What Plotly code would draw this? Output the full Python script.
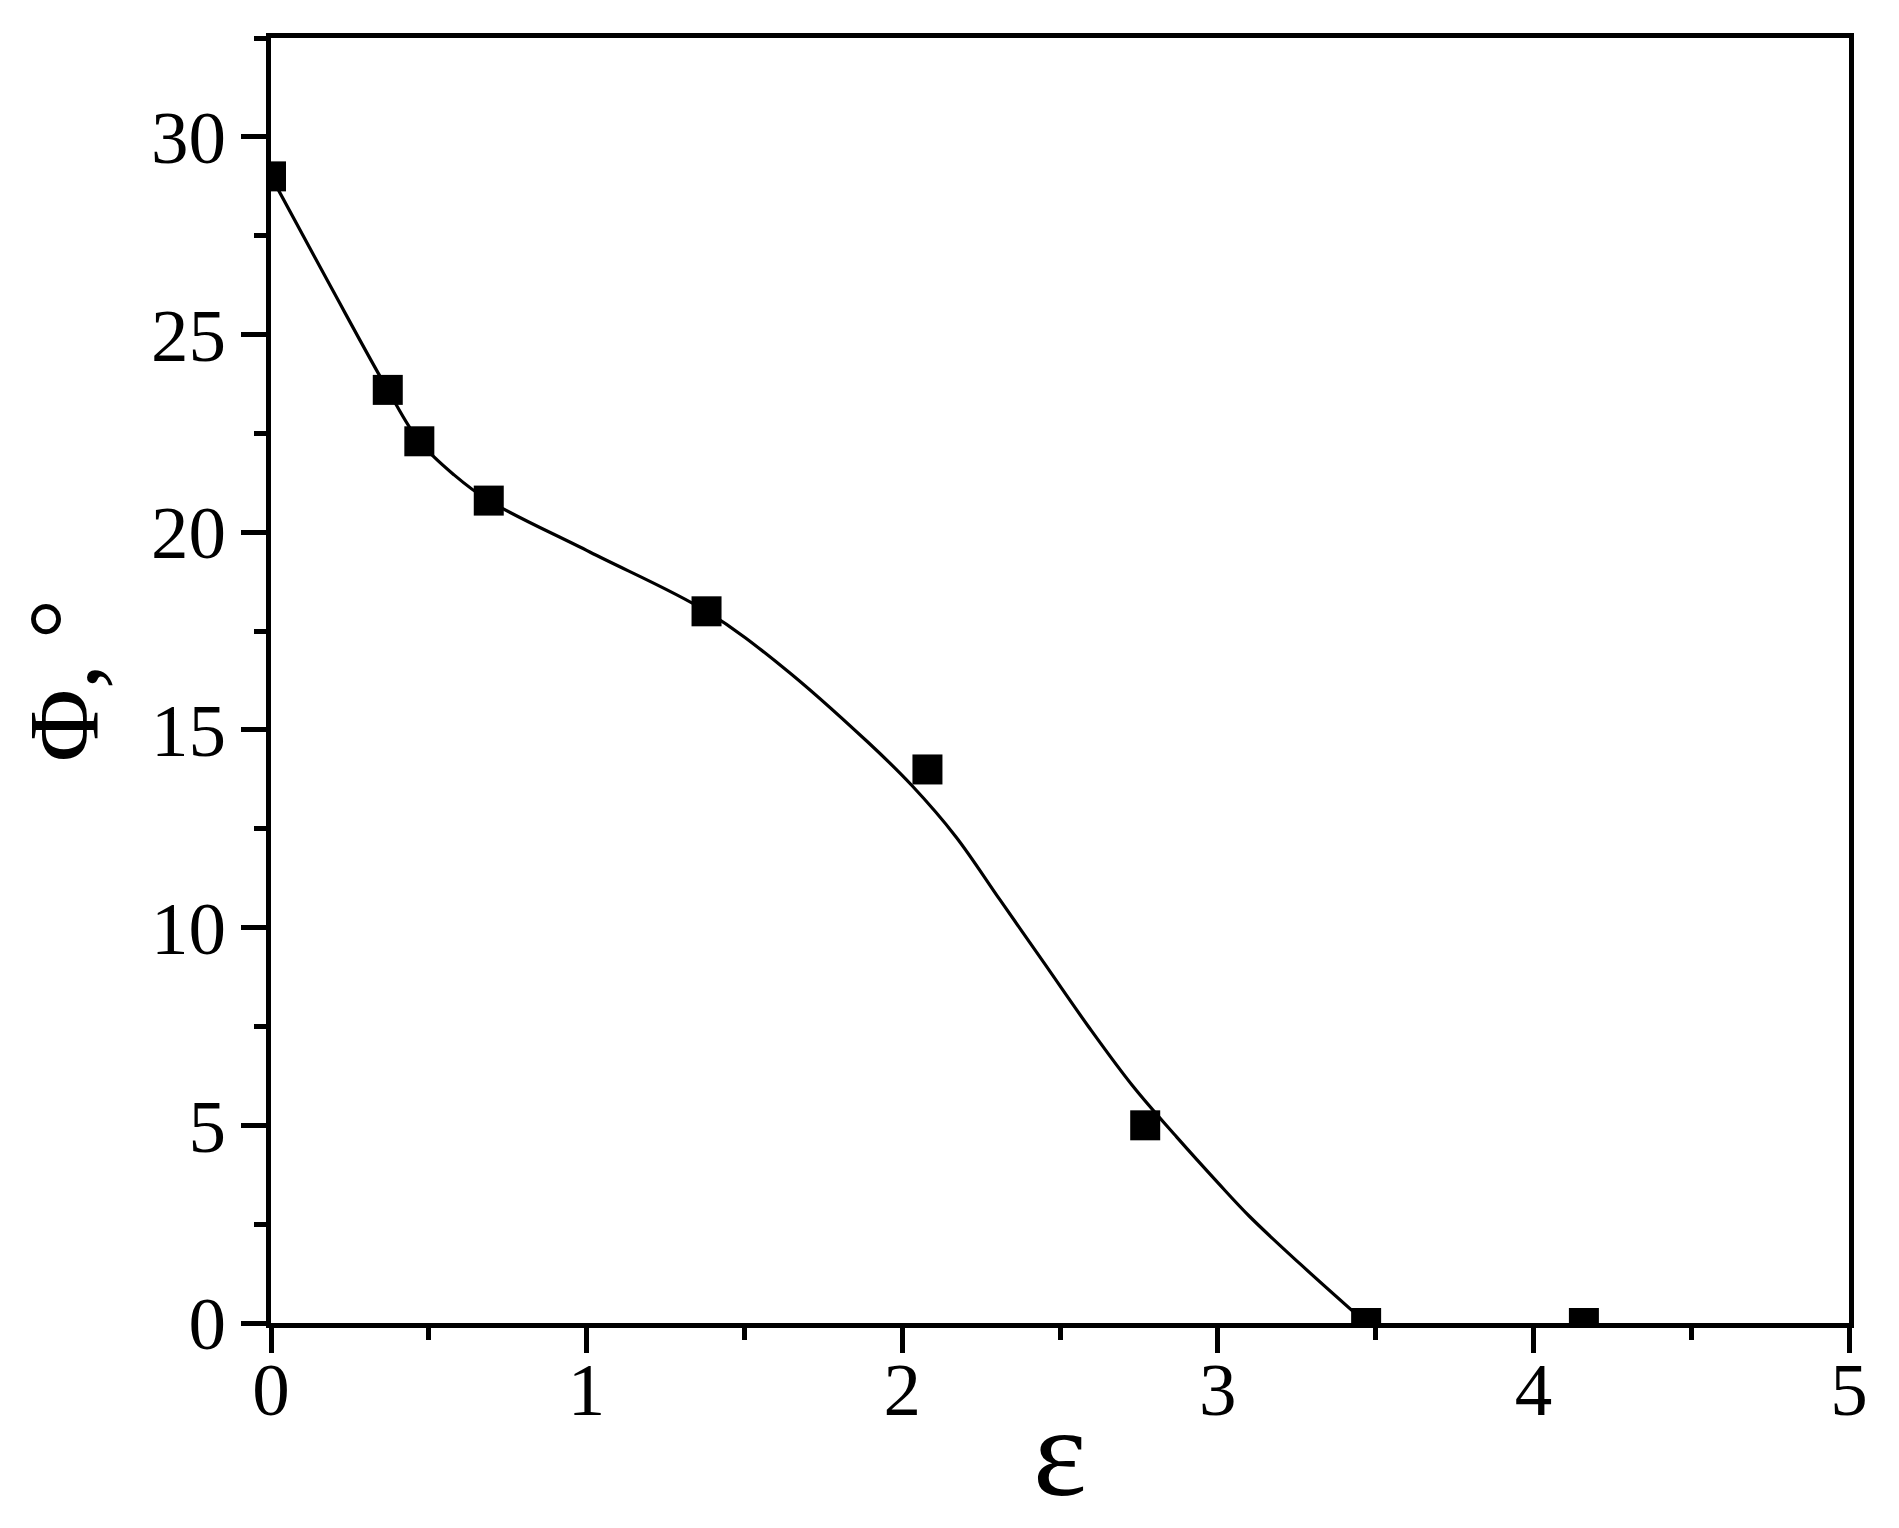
import plotly.graph_objects as go

# measured points: strain vs angle
eps_points = [0.0, 0.37, 0.47, 0.69, 1.38, 2.08, 2.77, 3.47, 4.16]
phi_points = [29.0, 23.6, 22.3, 20.8, 18.0, 14.0, 5.0, 0.0, 0.0]

# smoothed fit curve
eps_fit = [0.0, 0.19, 0.37, 0.47, 0.58, 0.69, 1.01, 1.38, 1.62, 1.89, 2.03,
           2.17, 2.31, 2.45, 2.59, 2.73, 2.87, 3.0, 3.1, 3.26, 3.47]
phi_fit = [29.0, 26.2, 23.6, 22.3, 21.45, 20.8, 19.5, 18.0, 16.6, 14.7, 13.6,
           12.3, 10.7, 9.1, 7.5, 6.0, 4.7, 3.55, 2.7, 1.5, 0.0]

x_ticks = [0, 1, 2, 3, 4, 5]
y_ticks = [0, 5, 10, 15, 20, 25, 30]

FONT = "Liberation Serif, Times New Roman, serif"

fig = go.Figure()

fig.add_trace(go.Scatter(
    x=eps_fit, y=phi_fit,
    mode="lines",
    line=dict(color="black", width=3.2, shape="spline", smoothing=1.0),
    hoverinfo="skip",
))

fig.add_trace(go.Scatter(
    x=eps_points, y=phi_points,
    mode="markers",
    marker=dict(symbol="square", size=30, color="black"),
    cliponaxis=True,
))

axis_common = dict(
    showline=True, linecolor="black", linewidth=5, mirror=True,
    showgrid=False, zeroline=False,
    ticks="outside", ticklen=25, tickwidth=5, tickcolor="black",
    tickfont=dict(family=FONT, size=75, color="black"),
)

fig.update_xaxes(
    range=[0, 5], tickvals=x_ticks,
    minor=dict(dtick=0.5, ticks="outside", ticklen=12, tickwidth=5, tickcolor="black"),
    ticklabelstandoff=-28,
    **axis_common,
)
fig.update_yaxes(
    range=[0, 32.5], tickvals=y_ticks,
    minor=dict(dtick=2.5, ticks="outside", ticklen=12, tickwidth=5, tickcolor="black"),
    title=dict(text="Φ, °", font=dict(family=FONT, size=100, color="black"), standoff=44),
    **axis_common,
)

# x-axis title as annotation so it can sit close to the tick labels
fig.add_annotation(
    text="ε", xref="paper", yref="paper", x=0.5, y=-0.1005,
    xanchor="center", yanchor="middle", showarrow=False,
    font=dict(family=FONT, size=128, color="black"),
)

fig.update_layout(
    width=1883, height=1520,
    margin=dict(l=263, r=42, t=30, b=205, autoexpand=False),
    plot_bgcolor="white", paper_bgcolor="white",
    showlegend=False,
)

fig.write_html("out.html")
